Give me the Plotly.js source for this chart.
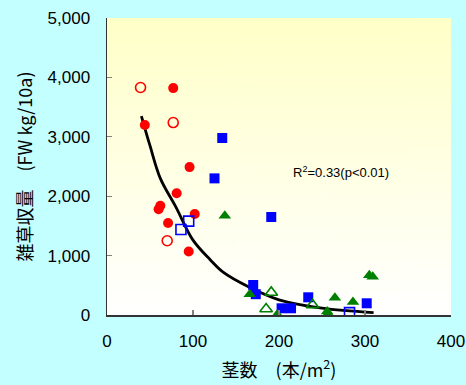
<!DOCTYPE html>
<html>
<head>
<meta charset="utf-8">
<script src="https://cdn.plot.ly/plotly-3.0.1.min.js"></script>
<style>html,body{margin:0;padding:0;background:#c4ffff;}#chart{width:466px;height:385px;}</style>
</head>
<body>
<div id="chart"></div>
<script>
// 赤 ● (filled circles)
var redFilledX = [77, 44, 96, 81, 60, 62, 102, 71, 95];
var redFilledY = [3820, 3200, 2490, 2050, 1780, 1840, 1700, 1550, 1070];
// 赤 ○ (open circles)
var redOpenX = [39, 77, 70];
var redOpenY = [3830, 3240, 1250];
// 青 ■ (filled squares)
var blueFilledX = [134, 125, 191, 170, 173, 203, 214, 234, 302];
var blueFilledY = [2980, 2300, 1650, 505, 350, 113, 113, 298, 197];
// 青 □ (open squares)
var blueOpenX = [86, 95, 282];
var blueOpenY = [1440, 1580, 40];
// 緑 ▲ (filled triangles)
var greenFilledX = [137, 166, 198, 256, 257, 265, 286, 305, 309];
var greenFilledY = [1670, 350, 10, 60, 20, 290, 220, 670, 645];
// 緑 △ (open triangles)
var greenOpenX = [191, 185, 239];
var greenOpenY = [380, 100, 170];
// 回帰曲線
var fitX = [40, 50, 62, 80, 100, 120, 135, 165, 200, 250, 310];
var fitY = [3350, 2850, 2300, 1820, 1260, 930, 720, 470, 255, 115, 40];

var xTicks = [0, 100, 200, 300, 400];
var yTicks = [0, 1000, 2000, 3000, 4000, 5000];

function pts(x, y, sym, col, open) {
  return {
    type: 'scatter', mode: 'markers', x: x, y: y, hoverinfo: 'skip',
    marker: {symbol: sym, size: sym.indexOf('triangle') === 0 ? 11 : 10,
      color: col,
      line: {color: col, width: open ? 1.6 : 0}}
  };
}

var traces = [
  {type: 'scatter', mode: 'lines', x: fitX, y: fitY, line: {color: '#000', width: 2.8, shape: 'spline'}, hoverinfo: 'skip'},
  pts(redOpenX, redOpenY, 'circle-open', '#ff0000', true),
  pts(redFilledX, redFilledY, 'circle', '#ff0000', false),
  pts(blueOpenX, blueOpenY, 'square-open', '#0000ff', true),
  pts(blueFilledX, blueFilledY, 'square', '#0000ff', false),
  pts(greenOpenX, greenOpenY, 'triangle-up-open', '#008000', true),
  pts(greenFilledX, greenFilledY, 'triangle-up', '#008000', false)
];

// gradient background image
var cv = document.createElement('canvas');
cv.width = 4; cv.height = 200;
var ctx = cv.getContext('2d');
var g = ctx.createLinearGradient(0, 0, 0, 200);
g.addColorStop(0, '#ffffc8');
g.addColorStop(1, '#ffffff');
ctx.fillStyle = g; ctx.fillRect(0, 0, 4, 200);
var bg = cv.toDataURL('image/png');

var fnt = '"Liberation Sans", Arial, "Noto Sans CJK JP", sans-serif';
var cjk = '"Noto Sans CJK JP", "Liberation Sans", sans-serif';
var layout = {
  width: 466, height: 385,
  margin: {l: 107, r: 15, t: 18, b: 70},
  paper_bgcolor: '#c4ffff',
  plot_bgcolor: 'rgba(0,0,0,0)',
  showlegend: false,
  font: {family: fnt, size: 17, color: '#000'},
  images: [{source: bg, xref: 'paper', yref: 'paper', x: 0, y: 1, sizex: 1, sizey: 1,
    sizing: 'stretch', xanchor: 'left', yanchor: 'top', layer: 'below'}],
  xaxis: {
    range: [0, 400], tickvals: xTicks, ticktext: xTicks.map(String),
    ticks: 'inside', ticklen: 5, tickcolor: '#808080', tickwidth: 1.2,
    showline: true, linecolor: '#333', linewidth: 1.5, showgrid: false, zeroline: false,
    ticklabelstandoff: 10,
    title: {text: '茎数　(本/m<sup>2</sup>)', font: {size: 18, family: cjk}, standoff: 14}
  },
  yaxis: {
    range: [0, 5000], tickvals: yTicks, ticktext: yTicks.map(function(v){return v.toLocaleString('en-US');}),
    ticks: 'inside', ticklen: 5, tickcolor: '#808080', tickwidth: 1.2,
    showline: true, linecolor: '#333', linewidth: 1.5, showgrid: false, zeroline: false,
    ticklabelstandoff: 12,
    title: {text: '雑草収量　(FW kg/10a)', font: {size: 18, family: cjk}, standoff: 10}
  },
  annotations: [{
    xref: 'x', yref: 'y', x: 272, y: 2400, text: 'R<sup>2</sup>=0.33(p<0.01)', showarrow: false,
    font: {size: 13, family: fnt}
  }]
};

Plotly.newPlot('chart', traces, layout, {displayModeBar: false, staticPlot: true});
</script>
</body>
</html>
